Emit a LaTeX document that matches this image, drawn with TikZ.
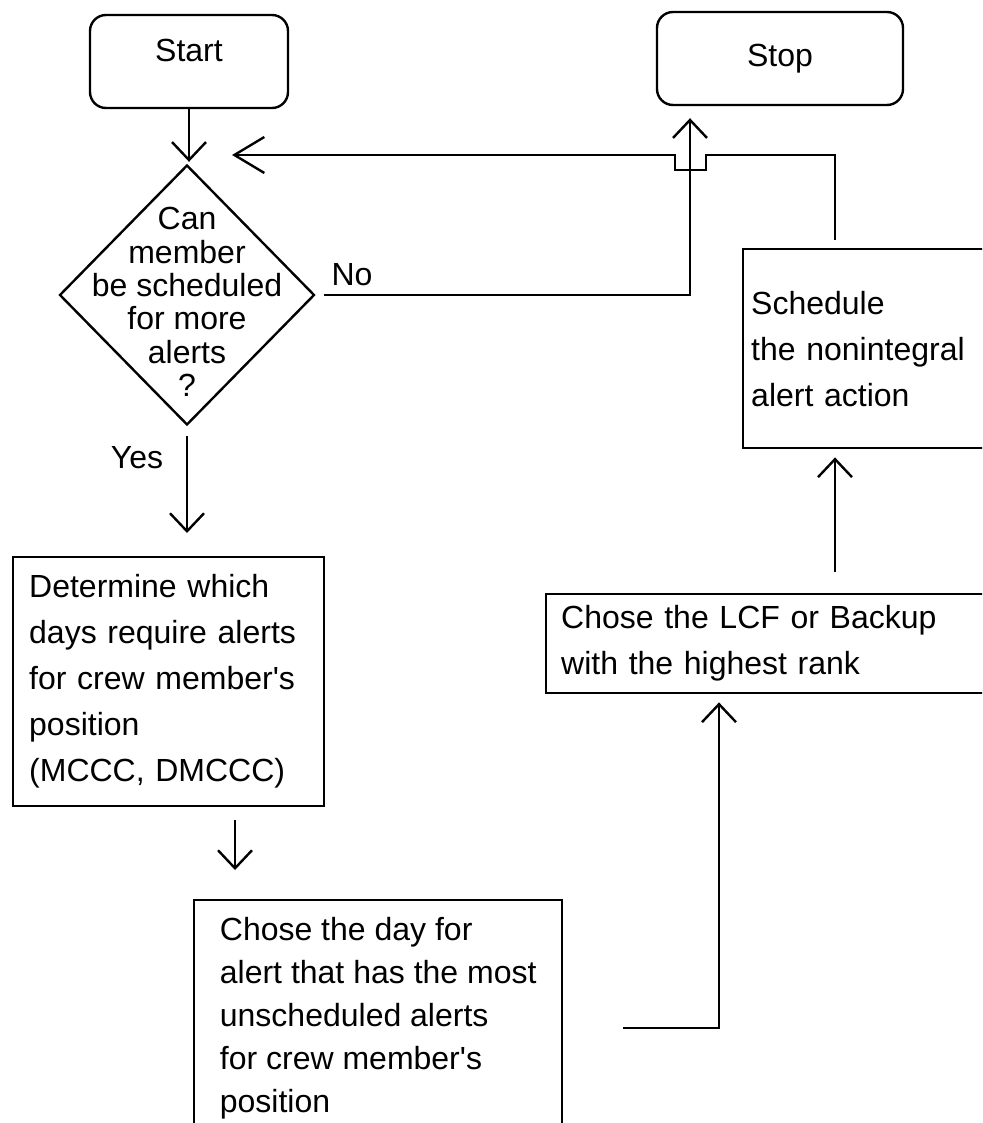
\documentclass[tikz,border=0pt]{standalone}
\usepackage{fontspec}
\setmainfont{Liberation Sans}
\usetikzlibrary{shapes.geometric,arrows.meta}

\begin{document}
\begin{tikzpicture}[x=1pt,y=1pt,yscale=-1,line width=2.4pt,
  font=\fontsize{32}{46}\selectfont,
  flow/.style={-{Straight Barb[length=18pt,width=34pt]}},
  backflow/.style={-{Straight Barb[length=30pt,width=36pt]}},
  term/.style={draw,rounded corners=16pt,inner sep=0pt},
  decision/.style={draw,diamond,inner sep=0pt},
  block/.style={draw,rectangle,align=left,anchor=north west}]
\useasboundingbox (0,0) rectangle (982,1123);
\clip (0,0) rectangle (982,1123);

% Terminals
\node[term,minimum width=198pt,minimum height=93pt] (start) at (189,61.5) {\raisebox{0pt}[0pt][0pt]{Start}};
\node[term,minimum width=246pt,minimum height=93pt] (stop) at (780,58.5) {Stop};
% Decision
\node[decision,minimum width=255pt,minimum height=260pt] (ask) at (187,295) {};
\node[align=center,font=\fontsize{32}{33.4}\selectfont] (asktext) at (187,302) {Can\\member\\be scheduled\\for more\\alerts\\?};
% Process boxes
\node[block,text width=279pt,inner xsep=16pt,minimum height=249pt] (det) at (12,556) {Determine which\\days require alerts\\for crew member\textquotesingle s\\position\\(MCCC, DMCCC)};
\node[block,inner xsep=0pt,inner ysep=17pt,minimum width=368pt,font=\fontsize{32}{43}\selectfont] (day) at (193,899) {Chose the day for\\alert that has the most\\unscheduled alerts\\for crew member\textquotesingle s\\position};
\node[block,text width=440pt,inner xsep=15pt,minimum height=99pt] (lcf) at (545,593) {Chose the LCF or Backup\\with the highest rank};
\node[block,text width=280pt,inner xsep=8pt,minimum height=199pt] (sched) at (742,248) {Schedule\\the nonintegral\\alert action};

% Text Node
\node (yes) at (137,458) {Yes};
% Text Node
\node (no) at (352,275) {No};

\coordinate (hop) at (690,155);
\coordinate (ret) at (835,155);
\coordinate (back) at (232,155);
\coordinate (link) at (235,0);
\coordinate (dayout) at (623,1028);
\coordinate (riser) at (719,1028);

% Connection
\draw[flow,shorten >=2pt] (start.south) -- (start.south |- ask.north);
% Connection
\draw[flow,shorten <=8pt,shorten >=12pt] (ask.east) -| (hop |- stop.south);
% Connection
\draw[backflow,shorten <=8pt] (ret |- sched.north) -- (ret) -- ([xshift=16pt]hop) -- ++(0,15) -- ++(-31,0) -- ++(0,-15) -- (back);
% Connection
\draw[flow,shorten <=10pt,shorten >=23pt] (ask.south) -- (ask.south |- det.north);
% Connection
\draw[flow,shorten <=13pt,shorten >=29pt] (link |- det.south) -- (link |- day.north);
% Connection
\draw[flow,shorten >=8pt] (dayout) -- (riser) -- (riser |- lcf.south);
% Connection
\draw[flow,shorten <=21pt,shorten >=8pt] (ret |- lcf.north) -- (ret |- sched.south);
\end{tikzpicture}
\end{document}
